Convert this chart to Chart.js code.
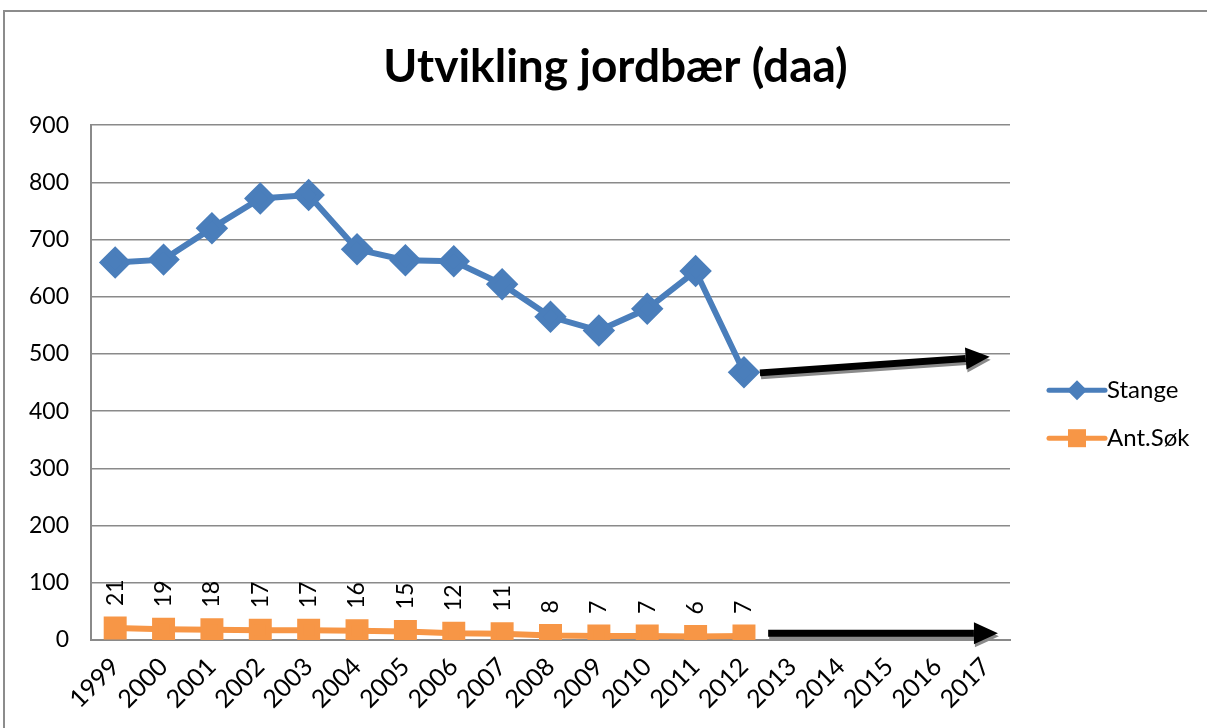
<!DOCTYPE html>
<html>
<head>
<meta charset="utf-8">
<script src="https://cdn.jsdelivr.net/npm/chart.js@4.4.1/dist/chart.umd.min.js"></script>
<style>
  html, body { margin: 0; padding: 0; background: #fff; }
  .frame { position: absolute; left: 3px; top: 10px; width: 1230px; height: 740px; border: 2px solid #8c8c8c; }
  #chart { position: absolute; left: 0; top: 0; }
</style>
</head>
<body>
<div class="frame"></div>
<canvas id="chart" width="1207" height="728"></canvas>
<script>
  // Data
  const years = ['1999', '2000', '2001', '2002', '2003', '2004', '2005', '2006', '2007',
    '2008', '2009', '2010', '2011', '2012', '2013', '2014', '2015', '2016', '2017'];
  const stange = [660, 665, 720, 772, 778, 683, 664, 662, 622, 565, 541, 579, 645, 468];
  const antSok = [21, 19, 18, 17, 17, 16, 15, 12, 11, 8, 7, 7, 6, 7];
  // trend arrows: [fromIndex, fromValue, toIndex, toValue]
  const trendStange = [13.33, 467, 18.08, 495];
  const trendSok = [13.5, 12, 18.25, 12];

  const FONT = 'Lato, "Open Sans", sans-serif';

  function drawArrow(ctx, x1, y1, x2, y2) {
    const ang = Math.atan2(y2 - y1, x2 - x1);
    const head = 24, half = 11;
    const bx = x2 - head * Math.cos(ang), by = y2 - head * Math.sin(ang);
    ctx.beginPath();
    ctx.moveTo(x1, y1);
    ctx.lineTo(bx, by);
    ctx.stroke();
    ctx.beginPath();
    ctx.moveTo(x2, y2);
    ctx.lineTo(bx + half * Math.sin(ang), by - half * Math.cos(ang));
    ctx.lineTo(bx - half * Math.sin(ang), by + half * Math.cos(ang));
    ctx.closePath();
    ctx.fill();
  }

  const extras = {
    id: 'extras',
    afterDatasetsDraw(chart) {
      const ctx = chart.ctx;
      const x = chart.scales.x, y = chart.scales.y;

      // data labels for Ant.Søk, rotated
      const meta = chart.getDatasetMeta(1);
      ctx.save();
      ctx.fillStyle = '#000';
      ctx.font = '23px ' + FONT;
      ctx.textAlign = 'left';
      ctx.textBaseline = 'middle';
      meta.data.forEach((pt, i) => {
        ctx.save();
        ctx.translate(pt.x, pt.y - 22);
        ctx.rotate(-Math.PI / 2);
        ctx.fillText(String(antSok[i]), 0, 0);
        ctx.restore();
      });
      ctx.restore();

      // arrows
      [trendStange, trendSok].forEach(a => {
        const x1 = x.getPixelForValue(a[0]), y1 = y.getPixelForValue(a[1]);
        const x2 = x.getPixelForValue(a[2]), y2 = y.getPixelForValue(a[3]);
        ctx.save();
        ctx.lineWidth = 7;
        ctx.strokeStyle = '#8a8a8a';
        ctx.fillStyle = '#8a8a8a';
        drawArrow(ctx, x1 + 1, y1 + 3, x2 + 1, y2 + 3);
        ctx.strokeStyle = '#000';
        ctx.fillStyle = '#000';
        drawArrow(ctx, x1, y1, x2, y2);
        ctx.restore();
      });

      // legend
      const area = chart.chartArea;
      const lx = area.right + 39;
      chart.data.datasets.forEach((ds, i) => {
        const ly = area.top + 265 + i * 48;
        ctx.save();
        ctx.strokeStyle = ds.borderColor;
        ctx.lineWidth = 5;
        ctx.lineCap = 'round';
        ctx.beginPath();
        ctx.moveTo(lx, ly);
        ctx.lineTo(lx + 56, ly);
        ctx.stroke();
        ctx.fillStyle = ds.backgroundColor;
        const cx = lx + 28;
        if (i === 0) {
          ctx.beginPath();
          ctx.moveTo(cx, ly - 10);
          ctx.lineTo(cx + 10, ly);
          ctx.lineTo(cx, ly + 10);
          ctx.lineTo(cx - 10, ly);
          ctx.closePath();
          ctx.fill();
        } else {
          ctx.fillRect(cx - 9, ly - 9, 18, 18);
        }
        ctx.fillStyle = '#000';
        ctx.font = '24px ' + FONT;
        ctx.textAlign = 'left';
        ctx.textBaseline = 'middle';
        ctx.fillText(ds.label, lx + 58, ly);
        ctx.restore();
      });
    }
  };

  const config = {
    type: 'line',
    data: {
      labels: years,
      datasets: [
        {
          label: 'Stange',
          data: stange,
          borderColor: '#4a7ebb',
          backgroundColor: '#4a7ebb',
          borderWidth: 6,
          pointStyle: 'rectRot',
          pointRadius: 12,
          pointHoverRadius: 12,
          tension: 0
        },
        {
          label: 'Ant.Søk',
          data: antSok,
          borderColor: '#f79646',
          backgroundColor: '#f79646',
          borderWidth: 6,
          pointStyle: 'rect',
          pointRadius: 12,
          pointHoverRadius: 12,
          tension: 0
        }
      ]
    },
    options: {
      responsive: false,
      animation: false,
      layout: { padding: { left: 24, right: 0, top: 0, bottom: 0 } },
      plugins: {
        legend: { display: false },
        tooltip: { enabled: false },
        title: {
          display: true,
          text: 'Utvikling jordbær (daa)',
          color: '#000',
          font: { family: FONT, size: 46, weight: 'bold' },
          padding: { top: 40, bottom: 30 }
        }
      },
      scales: {
        x: {
          offset: true,
          grid: { display: false, drawTicks: false },
          border: { color: '#8a8a8a', width: 2 },
          ticks: {
            color: '#000',
            font: { family: FONT, size: 25 },
            minRotation: 45,
            maxRotation: 45,
            padding: 12
          },
          afterFit: s => { s.height = 88; }
        },
        y: {
          min: 0,
          max: 900,
          grid: { color: '#8a8a8a', lineWidth: 1.5, drawTicks: false },
          border: { color: '#8a8a8a', width: 2 },
          ticks: {
            stepSize: 100,
            color: '#000',
            font: { family: FONT, size: 23 },
            padding: 22
          },
          afterFit: s => { s.width = 67; }
        },
        legendSpace: {
          type: 'linear',
          position: 'right',
          display: true,
          grid: { display: false },
          border: { display: false },
          ticks: { display: false },
          afterFit: s => { s.width = 197; }
        }
      }
    },
    plugins: [extras]
  };

  const chart = new Chart(document.getElementById('chart').getContext('2d'), config);
</script>
</body>
</html>
